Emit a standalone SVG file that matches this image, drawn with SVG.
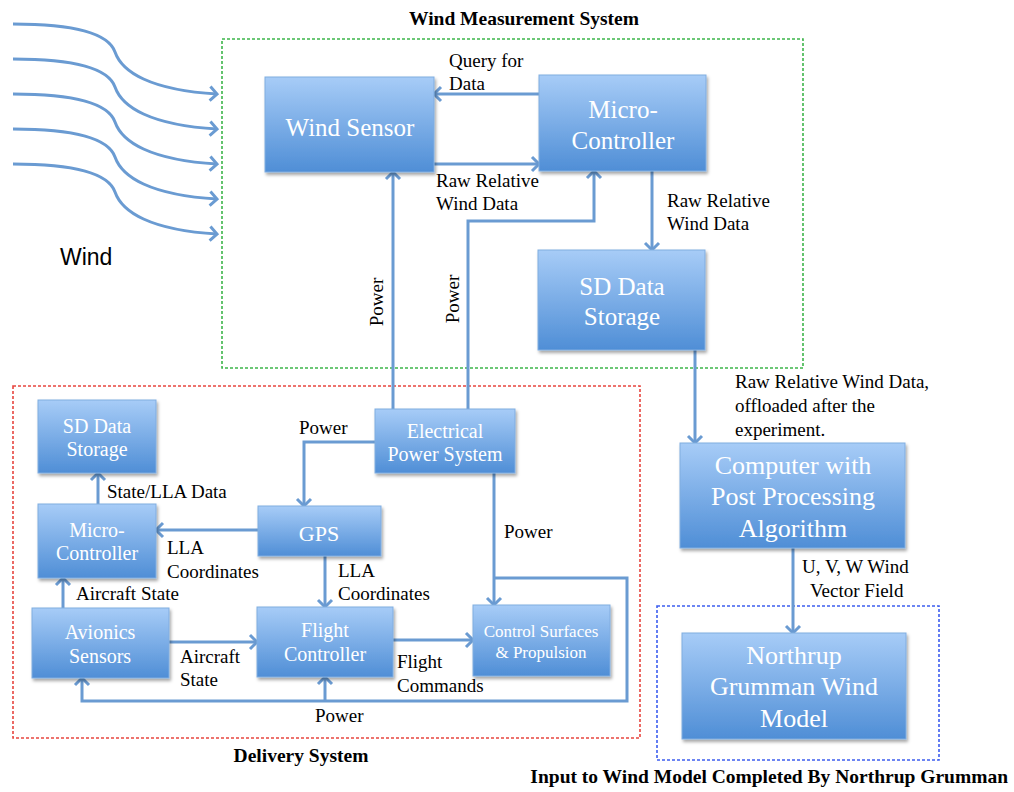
<svg xmlns="http://www.w3.org/2000/svg" width="1014" height="792" viewBox="0 0 1014 792">
<defs>
<linearGradient id="g" x1="0" y1="0" x2="0" y2="1">
<stop offset="0" stop-color="#A7CCF7"/>
<stop offset="1" stop-color="#4F8ED6"/>
</linearGradient>
<filter id="sh" x="-10%" y="-10%" width="125%" height="130%">
<feDropShadow dx="1.5" dy="2.5" stdDeviation="1.8" flood-color="#000" flood-opacity="0.35"/>
</filter>
<marker id="a" markerUnits="userSpaceOnUse" markerWidth="14" markerHeight="16" refX="9" refY="7" orient="auto" overflow="visible">
<path d="M2,0 L9,7 L2,14" fill="none" stroke="#6A9BD2" stroke-width="3" stroke-linejoin="miter"/>
</marker>
<style>
.box{fill:url(#g);stroke:#80ADE0;stroke-width:1;filter:url(#sh)}
.nt{font-family:"Liberation Serif","Times New Roman",serif;fill:#fff;text-anchor:middle}
.lb{font-family:"Liberation Serif","Times New Roman",serif;fill:#000;font-size:19px}
.ttl{font-family:"Liberation Serif","Times New Roman",serif;fill:#000;font-size:19.5px;font-weight:bold}
.ln{fill:none;stroke:#6A9BD2;stroke-width:3}
.arr{marker-end:url(#a)}
</style>
</defs>
<rect width="1014" height="792" fill="#fff"/>

<!-- group frames -->
<g id="frames" fill="none" stroke-width="1.6" stroke-dasharray="3,2">
<rect x="222" y="39" width="581" height="329" stroke="#3DB54A"/>
<rect x="13" y="386" width="627" height="352" stroke="#E8453F"/>
<rect x="657" y="606" width="282" height="154" stroke="#3D5EEF"/>
</g>
<text class="ttl" x="524" y="25" text-anchor="middle">Wind Measurement System</text>
<text class="ttl" x="301" y="762" text-anchor="middle">Delivery System</text>
<text class="ttl" x="1008" y="783" text-anchor="end">Input to Wind Model Completed By Northrup Grumman</text>

<!-- wind -->
<g id="wind" class="ln arr" stroke-width="3">
<path class="ln arr" d="M13,24 C70,24 108,32 115,52 C122,72 150,90 217,94"/>
<path class="ln arr" transform="translate(0,35)" d="M13,24 C70,24 108,32 115,52 C122,72 150,90 217,94"/>
<path class="ln arr" transform="translate(0,70)" d="M13,24 C70,24 108,32 115,52 C122,72 150,90 217,94"/>
<path class="ln arr" transform="translate(0,105)" d="M13,24 C70,24 108,32 115,52 C122,72 150,90 217,94"/>
<path class="ln arr" transform="translate(0,140)" d="M13,24 C70,24 108,32 115,52 C122,72 150,90 217,94"/>
</g>
<text x="60" y="265" font-family="Liberation Sans, Arial, sans-serif" font-size="23">Wind</text>

<!-- connectors -->
<g id="connectors">
<path class="ln arr" d="M539,94 L434,94"/>
<path class="ln arr" d="M434,164 L539,164"/>
<path class="ln arr" d="M393,409 L393,172"/>
<path class="ln arr" d="M468,409 L468,221 L594,221 L594,171"/>
<path class="ln arr" d="M652,171 L652,250"/>
<path class="ln arr" d="M695,350 L695,443"/>
<path class="ln arr" d="M793,548 L793,633"/>
<path class="ln arr" d="M375,442 L304,442 L304,506"/>
<path class="ln arr" d="M494,473 L494,605"/>
<path class="ln arr" d="M494,578 L627,578 L627,701 L82,701 L82,678"/>
<path class="ln arr" d="M325,701 L325,677"/>
<path class="ln arr" d="M258,530 L156,530"/>
<path class="ln arr" d="M325,556 L325,607"/>
<path class="ln arr" d="M98,504 L98,473"/>
<path class="ln arr" d="M63,608 L63,578"/>
<path class="ln arr" d="M169,642 L257,642"/>
<path class="ln arr" d="M393,640 L473,640"/>
</g>

<!-- connector labels -->
<g id="labels" class="lb">
<text x="449" y="67">Query for</text>
<text x="449" y="90">Data</text>
<text x="436" y="187">Raw Relative</text>
<text x="436" y="210">Wind Data</text>
<text x="667" y="207">Raw Relative</text>
<text x="667" y="230">Wind Data</text>
<text transform="translate(383,302) rotate(-90)" text-anchor="middle">Power</text>
<text transform="translate(459,299) rotate(-90)" text-anchor="middle">Power</text>
<text x="735" y="388">Raw Relative Wind Data,</text>
<text x="735" y="412">offloaded after the</text>
<text x="735" y="436">experiment.</text>
<text x="802" y="573">U, V, W Wind</text>
<text x="810" y="597">Vector Field</text>
<text x="299" y="434">Power</text>
<text x="504" y="538">Power</text>
<text x="107" y="498">State/LLA Data</text>
<text x="167" y="554">LLA</text>
<text x="167" y="578">Coordinates</text>
<text x="338" y="577">LLA</text>
<text x="338" y="600">Coordinates</text>
<text x="76" y="600">Aircraft State</text>
<text x="180" y="663">Aircraft</text>
<text x="180" y="686">State</text>
<text x="397" y="668">Flight</text>
<text x="397" y="692">Commands</text>
<text x="315" y="722">Power</text>
</g>

<!-- nodes -->
<g id="wind-sensor">
<rect class="box" x="265" y="77" width="169" height="95"/>
<text class="nt" x="350" y="136" font-size="25">Wind Sensor</text>
</g>
<g id="micro-controller-top">
<rect class="box" x="539" y="75" width="167" height="96"/>
<text class="nt" x="623" y="118" font-size="25">Micro-</text>
<text class="nt" x="623" y="149" font-size="25">Controller</text>
</g>
<g id="sd-storage-top">
<rect class="box" x="538" y="250" width="167" height="100"/>
<text class="nt" x="622" y="295" font-size="25">SD Data</text>
<text class="nt" x="622" y="325" font-size="25">Storage</text>
</g>
<g id="computer">
<rect class="box" x="680" y="443" width="225" height="105"/>
<text class="nt" x="793" y="474" font-size="26">Computer with</text>
<text class="nt" x="793" y="505" font-size="26">Post Processing</text>
<text class="nt" x="793" y="537" font-size="26">Algorithm</text>
</g>
<g id="northrup">
<rect class="box" x="682" y="633" width="224" height="106"/>
<text class="nt" x="794" y="664" font-size="26">Northrup</text>
<text class="nt" x="794" y="695" font-size="26">Grumman Wind</text>
<text class="nt" x="794" y="727" font-size="26">Model</text>
</g>
<g id="electrical-power">
<rect class="box" x="375" y="409" width="140" height="64"/>
<text class="nt" x="445" y="438" font-size="20">Electrical</text>
<text class="nt" x="445" y="461" font-size="20">Power System</text>
</g>
<g id="sd-storage-small">
<rect class="box" x="38" y="400" width="118" height="73"/>
<text class="nt" x="97" y="433" font-size="20">SD Data</text>
<text class="nt" x="97" y="456" font-size="20">Storage</text>
</g>
<g id="micro-controller-small">
<rect class="box" x="38" y="504" width="118" height="74"/>
<text class="nt" x="97" y="537" font-size="20">Micro-</text>
<text class="nt" x="97" y="560" font-size="20">Controller</text>
</g>
<g id="gps">
<rect class="box" x="258" y="506" width="123" height="50"/>
<text class="nt" x="319" y="541" font-size="22">GPS</text>
</g>
<g id="avionics">
<rect class="box" x="32" y="608" width="137" height="70"/>
<text class="nt" x="100" y="639" font-size="20">Avionics</text>
<text class="nt" x="100" y="663" font-size="20">Sensors</text>
</g>
<g id="flight-controller">
<rect class="box" x="257" y="607" width="136" height="70"/>
<text class="nt" x="325" y="637" font-size="20">Flight</text>
<text class="nt" x="325" y="661" font-size="20">Controller</text>
</g>
<g id="control-surfaces">
<rect class="box" x="473" y="605" width="137" height="71"/>
<text class="nt" x="541" y="637" font-size="17">Control Surfaces</text>
<text class="nt" x="541" y="658" font-size="17">&amp; Propulsion</text>
</g>
</svg>
